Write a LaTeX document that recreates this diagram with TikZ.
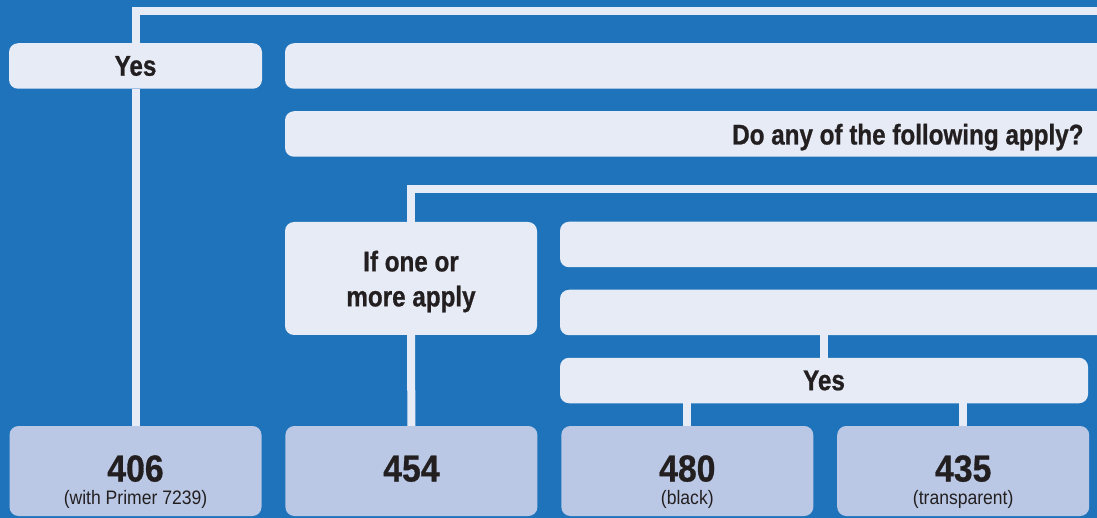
\documentclass[tikz,border=0pt]{standalone}
\usepackage{fontspec}
\setmainfont{Liberation Sans}
\newfontfamily\cnfont{Liberation Sans}[FakeStretch=0.85,FakeBold=0.8]
\newfontfamily\numfont{Liberation Sans}[FakeStretch=0.9,FakeBold=0.8]
\newfontfamily\notefont{Liberation Sans}[FakeStretch=0.9]
\usetikzlibrary{positioning}
\definecolor{bgblue}{HTML}{1E73BA}
\definecolor{paleblue}{HTML}{E6EBF6}
\definecolor{resblue}{HTML}{BAC8E5}
\definecolor{inkgray}{HTML}{231F20}

\begin{document}
\begin{tikzpicture}[x=1pt,y=-1pt,
  qtext/.style={text=inkgray, font=\cnfont\bfseries\fontsize{28.5}{35}\selectfont},
  qbox/.style={qtext, fill=paleblue, rounded corners=9pt, inner sep=0pt, minimum height=45.5pt},
  rbox/.style={fill=resblue, rounded corners=9pt, inner sep=0pt, minimum width=252pt, minimum height=90pt},
  num/.style={anchor=base, text=inkgray, font=\numfont\bfseries\fontsize{37.5}{40}\selectfont},
  note/.style={anchor=base, text=inkgray, font=\notefont\fontsize{19.5}{22}\selectfont},
  link/.style={draw=paleblue, line width=8pt}]

  \useasboundingbox (0,0) rectangle (1097,518);
  \clip (0,0) rectangle (1097,518);
  \fill[bgblue] (0,0) rectangle (1097,518);

  % question boxes
  \node[qbox, minimum width=253pt] (yes1) at (135.5,66) {Yes};
  \node[qbox, minimum width=835pt] (blank1) at (702.5,66) {};
  \node[qbox, minimum width=835pt] (ask) at (702.5,134) {};
  \node[qtext, anchor=base east] (asktext) at (1087,144.5) {Do any of the following apply?};
  \node[qbox, minimum width=252pt, minimum height=113pt] (apply) at (411,278.5) {};
  \node[qtext, align=center] (applytext) at (411,281.5) {If one or\\more apply};
  \node[qbox, minimum width=560pt] (cond1) at (840,244.5) {};
  \node[qbox, minimum width=560pt] (cond2) at (840,312.5) {};
  \node[qbox, minimum width=528pt] (yes2) at (824,380.5) {Yes};

  % results
  \node[rbox] (r406) at (135.5,471) {};
  \node[rbox, right=23.5pt of r406] (r454) {};
  \node[rbox, right=23.5pt of r454] (r480) {};
  \node[rbox, right=23.5pt of r480] (r435) {};

  \node[num] (n406) at (r406 |- 0,481.5) {406};
  \node[note] (t406) at (r406 |- 0,504.5) {(with Primer 7239)};
  \node[num] (n454) at (r454 |- 0,481.5) {454};
  \node[num] (n480) at (r480 |- 0,481.5) {480};
  \node[note] (t480) at (r480 |- 0,504.5) {(black)};
  \node[num] (n435) at (r435 |- 0,481.5) {435};
  \node[note] (t435) at (r435 |- 0,504.5) {(transparent)};

  % connectors
  \coordinate (topend) at (1110,11);
  \coordinate (midend) at (1110,189);
  \draw[link] (yes1.north) |- (topend);
  \draw[link] (yes1.south) -- (r406.north);
  \draw[link] (apply.north) |- (midend);
  \draw[link] (apply.south) -- (r454.north);
  \draw[link] (cond2.south -| yes2.north) -- (yes2.north);
  \draw[link] (yes2.south -| r480.north) -- (r480.north);
  \draw[link] (yes2.south -| r435.north) -- (r435.north);
\end{tikzpicture}
\end{document}
